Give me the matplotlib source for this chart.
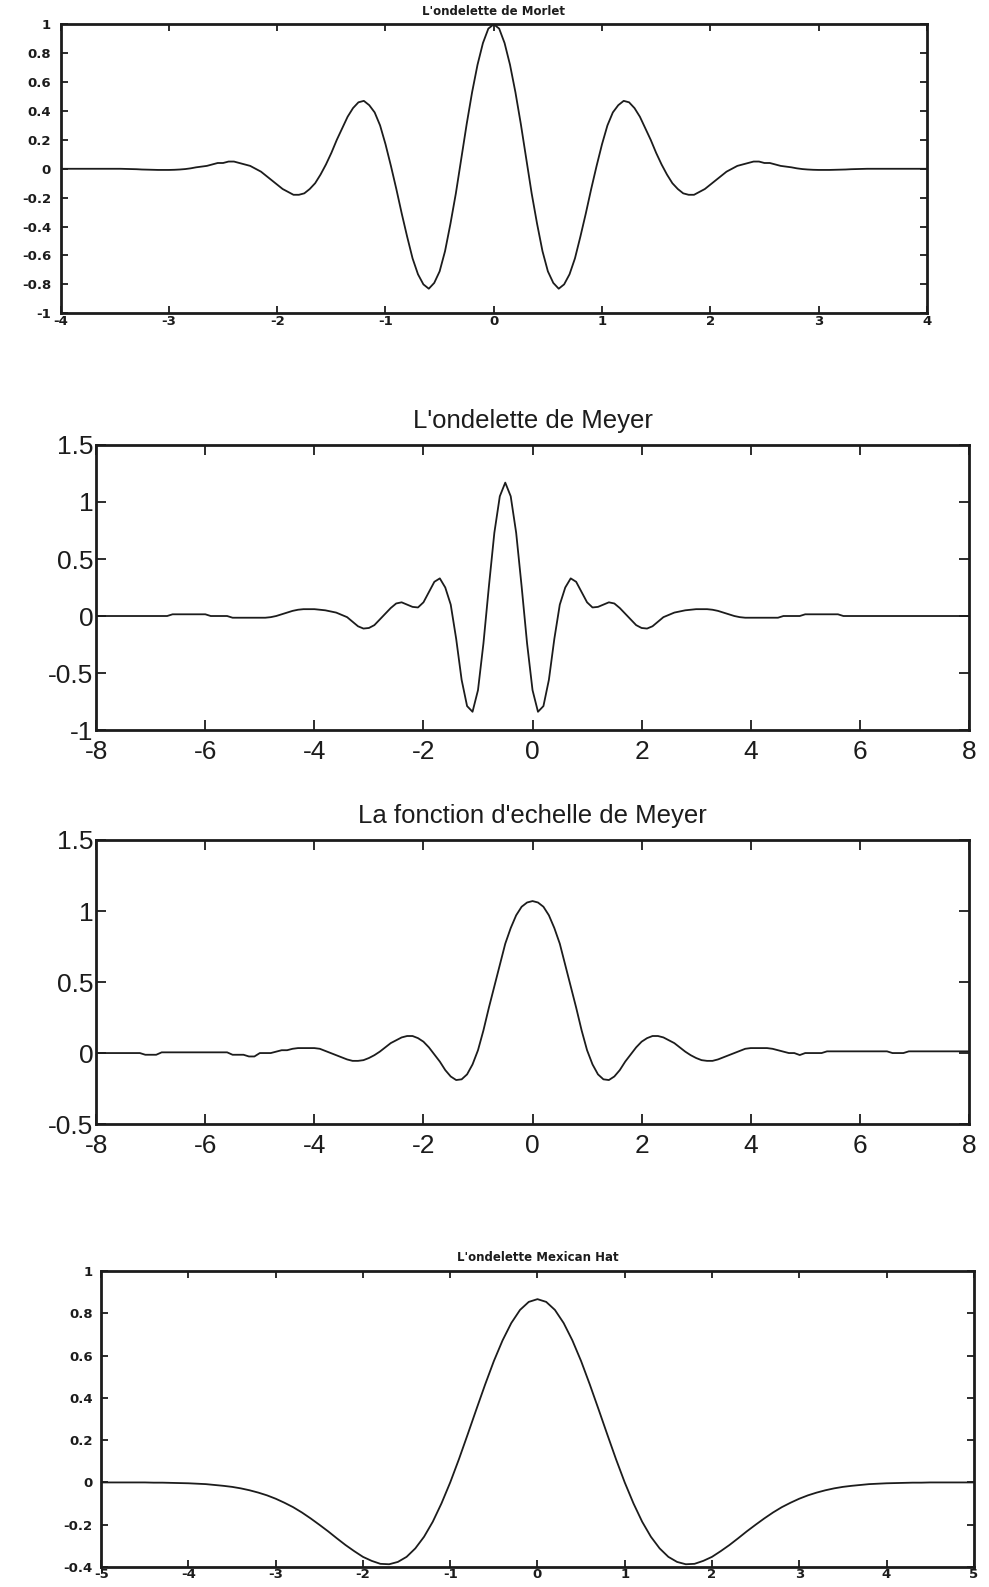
import numpy as np
import matplotlib
matplotlib.use("Agg")
import matplotlib.pyplot as plt

plt.rcParams['axes.unicode_minus'] = False

# ------------------------------------------------------------------
# Donnees
# ------------------------------------------------------------------
titres = ["L'ondelette de Morlet", "L'ondelette de Meyer",
          "La fonction d'echelle de Meyer", "L'ondelette Mexican Hat"]

# Morlet : x de -4 a 4, pas 0.05
morlet_x = np.round(np.arange(-4, 4.001, 0.05), 2)
morlet_y = [
    0, 0, 0, 0, 0, 0, 0, 0, 0, 0, 0, 0,
    -0.001, -0.002, -0.003, -0.005, -0.006, -0.007, -0.008, -0.008,
    -0.008, -0.007, -0.005, -0.002, 0.003, 0.01, 0.015, 0.02, 0.03, 0.04,
    0.04, 0.05, 0.05, 0.04, 0.03, 0.02, 0.00, -0.02, -0.05, -0.08,
    -0.11, -0.14, -0.16, -0.18, -0.18, -0.17, -0.14, -0.10, -0.04, 0.03,
    0.11, 0.20, 0.28, 0.36, 0.42, 0.46, 0.47, 0.44, 0.39, 0.30,
    0.17, 0.02, -0.14, -0.31, -0.47, -0.62, -0.73, -0.80, -0.83, -0.79,
    -0.71, -0.57, -0.38, -0.17, 0.07, 0.31, 0.53, 0.72, 0.87, 0.97,
    1.00,
    0.97, 0.87, 0.72, 0.53, 0.31, 0.07, -0.17, -0.38, -0.57, -0.71,
    -0.79, -0.83, -0.80, -0.73, -0.62, -0.47, -0.31, -0.14, 0.02, 0.17,
    0.30, 0.39, 0.44, 0.47, 0.46, 0.42, 0.36, 0.28, 0.20, 0.11,
    0.03, -0.04, -0.10, -0.14, -0.17, -0.18, -0.18, -0.16, -0.14, -0.11,
    -0.08, -0.05, -0.02, 0.00, 0.02, 0.03, 0.04, 0.05, 0.05, 0.04,
    0.04, 0.03, 0.02, 0.015, 0.01, 0.003, -0.002, -0.005, -0.007, -0.008,
    -0.008, -0.008, -0.007, -0.006, -0.005, -0.003, -0.002, -0.001,
    0, 0, 0, 0, 0, 0, 0, 0, 0, 0, 0, 0,
]

# Meyer (ondelette) : x de -8 a 8, pas 0.1
meyer_x = np.round(np.arange(-8, 8.001, 0.1), 1)
meyer_psi = [
    0, 0, 0, 0, 0, 0, 0, 0, 0, 0, 0, 0, 0, 0,
    0.015, 0.015, 0.015, 0.015, 0.015, 0.015, 0.015,
    0, 0, 0, 0,
    -0.015, -0.015, -0.015, -0.015, -0.015, -0.015, -0.015,
    -0.01, 0, 0.015, 0.03, 0.045, 0.055, 0.06, 0.06, 0.06, 0.055,
    0.05, 0.04, 0.03, 0.01, -0.01, -0.05, -0.09, -0.11, -0.105, -0.08,
    -0.03, 0.02, 0.07, 0.11, 0.12, 0.10, 0.08, 0.075, 0.12, 0.21,
    0.30, 0.33, 0.25, 0.10, -0.20, -0.56, -0.79, -0.84, -0.65, -0.24,
    0.26, 0.73, 1.05, 1.17,
    1.05, 0.73, 0.26, -0.24, -0.65, -0.84, -0.79, -0.56, -0.20, 0.10,
    0.25, 0.33, 0.30, 0.21, 0.12, 0.075, 0.08, 0.10, 0.12, 0.11,
    0.07, 0.02, -0.03, -0.08, -0.105, -0.11, -0.09, -0.05, -0.01, 0.01,
    0.03, 0.04, 0.05, 0.055, 0.06, 0.06, 0.06, 0.055, 0.045, 0.03,
    0.015, 0, -0.01,
    -0.015, -0.015, -0.015, -0.015, -0.015, -0.015, -0.015,
    0, 0, 0, 0,
    0.015, 0.015, 0.015, 0.015, 0.015, 0.015, 0.015,
    0, 0, 0, 0, 0, 0, 0, 0, 0, 0, 0, 0,
    0, 0, 0, 0, 0, 0, 0, 0, 0, 0, 0, 0,
]

# Meyer (fonction d'echelle) : x de -8 a 8, pas 0.1
meyer_phi = [
    0, 0, 0, 0, 0, 0, 0, 0, 0,
    -0.012, -0.012, -0.012,
    0.005, 0.005, 0.005, 0.005, 0.005, 0.005, 0.005, 0.005, 0.005, 0.005,
    0.005, 0.005, 0.005,
    -0.012, -0.012, -0.012, -0.024, -0.024, 0, 0, 0, 0.01, 0.02,
    0.02, 0.03, 0.035, 0.035, 0.035, 0.035, 0.03, 0.015, 0.0, -0.015,
    -0.03, -0.045, -0.055, -0.055, -0.05, -0.035, -0.015, 0.01, 0.04, 0.07,
    0.09, 0.11, 0.12, 0.12, 0.105, 0.08, 0.04, -0.01, -0.06, -0.12,
    -0.165, -0.19, -0.185, -0.15, -0.08, 0.02, 0.16, 0.32, 0.47, 0.62,
    0.77, 0.88, 0.97, 1.03, 1.06,
    1.07,
    1.06, 1.03, 0.97, 0.88, 0.77, 0.62, 0.47, 0.32, 0.16, 0.02,
    -0.08, -0.15, -0.185, -0.19, -0.165, -0.12, -0.06, -0.01, 0.04, 0.08,
    0.105, 0.12, 0.12, 0.11, 0.09, 0.07, 0.04, 0.01, -0.015, -0.035,
    -0.05, -0.055, -0.055, -0.045, -0.03, -0.015, 0.0, 0.015, 0.03, 0.035,
    0.035, 0.035, 0.035, 0.03, 0.02,
    0.01, 0, 0, -0.014, 0, 0, 0, 0,
    0.012, 0.012, 0.012, 0.012, 0.012, 0.012, 0.012, 0.012, 0.012, 0.012,
    0.012, 0.012,
    0, 0, 0,
    0.012, 0.012, 0.012, 0.012, 0.012, 0.012, 0.012, 0.012, 0.012, 0.012,
    0.012, 0.012,
]

# Mexican Hat : x de -5 a 5, pas 0.1
mexh_x = np.round(np.arange(-5, 5.001, 0.1), 1)
mexh_y = [
    0, 0, 0, 0, 0, 0,
    -0.001, -0.001, -0.002, -0.003, -0.004, -0.006, -0.008, -0.012, -0.016, -0.021,
    -0.028, -0.037, -0.048, -0.061, -0.077, -0.096, -0.117, -0.142, -0.170, -0.200,
    -0.231, -0.264, -0.296, -0.325, -0.352, -0.371, -0.385, -0.387, -0.376, -0.352,
    -0.312, -0.257, -0.186, -0.099, 0.0, 0.110, 0.227, 0.346, 0.463, 0.574,
    0.672, 0.754, 0.816, 0.854,
    0.867,
    0.854, 0.816, 0.754, 0.672, 0.574, 0.463, 0.346, 0.227, 0.110, 0.0,
    -0.099, -0.186, -0.257, -0.312, -0.352, -0.376, -0.387, -0.385, -0.371, -0.352,
    -0.325, -0.296, -0.264, -0.231, -0.200, -0.170, -0.142, -0.117, -0.096, -0.077,
    -0.061, -0.048, -0.037, -0.028, -0.021, -0.016, -0.012, -0.008, -0.006, -0.004,
    -0.003, -0.002, -0.001, -0.001,
    0, 0, 0, 0, 0, 0,
]

# graduations
morlet_xt = [-4, -3, -2, -1, 0, 1, 2, 3, 4]
morlet_yt = [-1, -0.8, -0.6, -0.4, -0.2, 0, 0.2, 0.4, 0.6, 0.8, 1]
meyer_xt = [-8, -6, -4, -2, 0, 2, 4, 6, 8]
meyer_psi_yt = [-1, -0.5, 0, 0.5, 1, 1.5]
meyer_phi_yt = [-0.5, 0, 0.5, 1, 1.5]
mexh_xt = [-5, -4, -3, -2, -1, 0, 1, 2, 3, 4, 5]
mexh_yt = [-0.4, -0.2, 0, 0.2, 0.4, 0.6, 0.8, 1]

# ------------------------------------------------------------------
fig = plt.figure(figsize=(9.89, 15.87), dpi=100)
fig.patch.set_facecolor('white')

ENCRE = '#1c1c1c'
# petite police large et grasse (panneaux 1 et 4), grande police etroite (2 et 3)
PETIT = dict(family=['DejaVu Sans'], weight='bold')
GRAND = dict(family=['Liberation Sans Narrow', 'Liberation Sans', 'DejaVu Sans'],
             stretch='condensed')


def panneau(rect, x, y, xlim, ylim, xt, yt, titre, police, taille, ttaille,
            ticklen, xpad, ypad, tpad):
    ax = fig.add_axes(rect)
    ax.plot(x, y, color=ENCRE, lw=1.3)
    ax.set_xlim(*xlim)
    ax.set_ylim(*ylim)
    ax.set_xticks(xt)
    ax.set_yticks(yt)
    ax.set_xticklabels(['%g' % v for v in xt], fontsize=taille, color=ENCRE, **police)
    ax.set_yticklabels(['%g' % v for v in yt], fontsize=taille, color=ENCRE, **police)
    ax.tick_params(direction='in', top=True, right=True, length=ticklen,
                   width=1.3, colors=ENCRE)
    ax.tick_params(axis='x', pad=xpad)
    ax.tick_params(axis='y', pad=ypad)
    for s in ax.spines.values():
        s.set_linewidth(2.0)
        s.set_color(ENCRE)
    ax.set_title(titre, fontsize=ttaille, color=ENCRE, pad=tpad, **police)
    return ax


panneau([0.0614, 0.8026, 0.8757, 0.1821], morlet_x, morlet_y, (-4, 4), (-1, 1),
        morlet_xt, morlet_yt, titres[0], PETIT, 9.5, 8.5, 5, 1.5, 7, 7)
panneau([0.0973, 0.540, 0.8823, 0.1796], meyer_x, meyer_psi, (-8, 8), (-1, 1.5),
        meyer_xt, meyer_psi_yt, titres[1], GRAND, 19, 18.5, 7, 7, 2, 12)
panneau([0.0973, 0.2917, 0.8823, 0.179], meyer_x, meyer_phi, (-8, 8), (-0.5, 1.5),
        meyer_xt, meyer_phi_yt, titres[2], GRAND, 19, 18.5, 7, 7, 2, 12)
panneau([0.1023, 0.0126, 0.8823, 0.1865], mexh_x, mexh_y, (-5, 5), (-0.4, 1),
        mexh_xt, mexh_yt, titres[3], PETIT, 9.5, 8.5, 5, 1, 6, 7.5)

fig.savefig('out.png', dpi=100, facecolor='white')
